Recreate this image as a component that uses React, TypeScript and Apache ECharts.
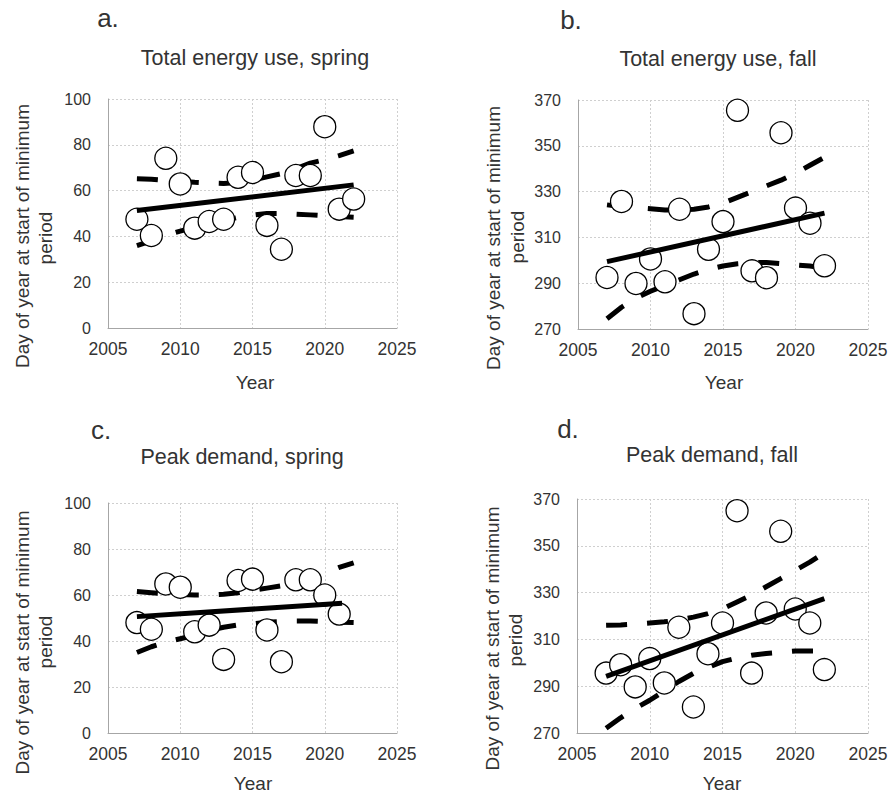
import React, { useEffect, useRef } from "react";
import * as echarts from "echarts";

// ---- Data ----
const years = [2007, 2008, 2009, 2010, 2011, 2012, 2013, 2014, 2015, 2016, 2017, 2018, 2019, 2020, 2021, 2022];
const yearsPeakSpring = [2007, 2008, 2009, 2010, 2011, 2012, 2013, 2014, 2015, 2016, 2017, 2018, 2019, 2020, 2021];
const trendYears = [2007, 2022];
const trendYearsPeakSpring = [2007, 2021.2];

// a. Total energy use, spring
const energySpring = [47.5, 40.4, 74.1, 62.9, 43.6, 46.5, 47.5, 65.8, 67.9, 44.8, 34.4, 66.6, 66.6, 87.9, 51.9, 56.3];
const energySpringTrend = [51.3, 62.5];
const energySpringUpper = [65.2, 65, 64.5, 64, 63.6, 63.3, 63.1, 63.5, 64.5, 66, 67.4, 69.5, 72, 73.5, 75.3, 77.3];
const energySpringLower = [36, 38, 40.5, 42.3, 44, 45.5, 47, 48.3, 49.3, 50, 50, 49.7, 49.4, 49, 48.7, 48.4];

// b. Total energy use, fall
const energyFall = [292.5, 325.7, 289.9, 300.6, 290.6, 322.3, 276.7, 304.8, 316.9, 365.5, 295.4, 292.4, 355.7, 322.8, 316.2, 297.6];
const energyFallTrend = [299.4, 320.6];
const energyFallUpper = [324.2, 323.5, 323, 322.5, 322, 322, 322.3, 323.3, 325, 327.5, 330, 332.5, 335, 338, 341.5, 345];
const energyFallLower = [274.5, 279.5, 283.5, 286.5, 289, 291.5, 294, 296, 297.5, 298.5, 299, 299, 298.5, 298, 297.5, 296.5];

// c. Peak demand, spring
const peakSpring = [48.0, 45.1, 64.8, 63.4, 44.0, 46.9, 32.0, 66.3, 66.9, 44.8, 31.0, 66.6, 66.6, 60.0, 51.7];
const peakSpringTrend = [50.6, 56.4];
const peakSpringUpper = [61.5, 61, 60.5, 60.2, 60, 60, 60.3, 61, 62, 63, 64, 65.5, 67.5, 69.5, 72, 74];
const peakSpringLower = [35, 37.5, 39.5, 41, 42.5, 44.5, 46, 47, 47.5, 48.2, 48.5, 48.7, 48.7, 48.5, 48.2, 48];

// d. Peak demand, fall
const peakFall = [295.6, 299.2, 289.7, 301.8, 291.4, 315.2, 281.1, 303.9, 317, 365, 295.6, 321.3, 356.2, 323, 317, 297.1];
const peakFallTrend = [294.2, 327.4];
const peakFallUpper = [316, 316.2, 316.5, 317, 317.5, 318.3, 319.5, 321, 323, 326, 329, 332.5, 336, 339.5, 343, 347];
const peakFallLower = [272, 276.5, 280.5, 284, 288, 292, 295.5, 298, 300.5, 302, 303.2, 304, 304.5, 305, 305, 305];

const panelLetters = ["a.", "b.", "c.", "d."];
const panelTitles = ["Total energy use, spring", "Total energy use, fall", "Peak demand, spring", "Peak demand, fall"];
const xAxisTitle = "Year";
const yAxisTitleLines = ["Day of year at start of minimum", "period"];
const xRange = [2005, 2025, 5];
const springRange = [0, 100, 20];
const fallRange = [270, 370, 20];

const pair = (xs: number[], ys: number[]) => xs.map((x, i) => [x, ys[i]]);

const FONT = "'Liberation Sans', Arial, sans-serif";
const TXT = "#333333";

export default function App() {
  const ref = useRef<HTMLDivElement>(null);
  useEffect(() => {
    if (!ref.current) return;
    const chart = echarts.init(ref.current, undefined, { renderer: "svg" });

    const grids = [
      { left: 108, top: 99, width: 289, height: 229 },
      { left: 578, top: 100, width: 290, height: 229 },
      { left: 108, top: 503, width: 289, height: 230 },
      { left: 577, top: 499, width: 291, height: 234 },
    ];
    const yRanges = [springRange, fallRange, springRange, fallRange];

    const xAxes = grids.map((_, i) => ({
      type: "value",
      gridIndex: i,
      min: xRange[0],
      max: xRange[1],
      interval: xRange[2],
      axisLine: { show: true, onZero: false, lineStyle: { color: "#a6a6a6", width: 1 } },
      axisTick: { show: false },
      axisLabel: { fontSize: 17.5, color: TXT, fontFamily: FONT, margin: 12, formatter: (v: number) => String(v) },
      splitLine: { show: true, lineStyle: { color: "#cfcfcf", type: [2, 2], width: 1 } },
    }));
    const yAxes = grids.map((_, i) => ({
      type: "value",
      gridIndex: i,
      min: yRanges[i][0],
      max: yRanges[i][1],
      interval: yRanges[i][2],
      axisLine: { show: true, onZero: false, lineStyle: { color: "#a6a6a6", width: 1 } },
      axisTick: { show: false },
      axisLabel: { fontSize: 16, color: TXT, fontFamily: FONT, margin: 17, formatter: (v: number) => String(v) },
      splitLine: { show: true, lineStyle: { color: "#cfcfcf", type: [2, 2], width: 1 } },
    }));

    const panels = [
      { pts: pair(years, energySpring), trend: pair(trendYears, energySpringTrend), up: pair(years, energySpringUpper), lo: pair(years, energySpringLower) },
      { pts: pair(years, energyFall), trend: pair(trendYears, energyFallTrend), up: pair(years, energyFallUpper), lo: pair(years, energyFallLower) },
      { pts: pair(yearsPeakSpring, peakSpring), trend: pair(trendYearsPeakSpring, peakSpringTrend), up: pair(years, peakSpringUpper), lo: pair(years, peakSpringLower) },
      { pts: pair(years, peakFall), trend: pair(trendYears, peakFallTrend), up: pair(years, peakFallUpper), lo: pair(years, peakFallLower) },
    ];

    const series: any[] = [];
    panels.forEach((p, i) => {
      const lineBase = { type: "line", xAxisIndex: i, yAxisIndex: i, symbol: "none", silent: true };
      series.push({ ...lineBase, z: 1, data: p.up, lineStyle: { color: "#000", width: 5, type: [21, 20] } });
      series.push({ ...lineBase, z: 1, data: p.lo, lineStyle: { color: "#000", width: 5, type: [21, 20] } });
      series.push({
        type: "scatter",
        xAxisIndex: i,
        yAxisIndex: i,
        data: p.pts,
        symbol: "circle",
        symbolSize: 22,
        itemStyle: { color: "#ffffff", borderColor: "#000000", borderWidth: 1.3, opacity: 1 },
        z: 2,
        silent: true,
      });
      series.push({ ...lineBase, z: 3, data: p.trend, lineStyle: { color: "#000", width: 5, type: "solid" } });
    });

    const letterPos = [[108, 18], [571, 20], [101, 429.5], [568, 429]];
    const titlePos = [[255, 58], [718, 59], [242, 457], [712, 455]];
    const yName1 = [[22, 236], [493.5, 238], [22, 642.5], [492, 638.5]];
    const yName2 = [[45, 238], [517, 237], [45, 642], [515, 640]];
    const xNamePos = [[255, 382], [724, 382], [253, 783], [722, 783]];

    const graphic: any[] = [];
    for (let i = 0; i < 4; i++) {
      graphic.push({ type: "text", x: letterPos[i][0], y: letterPos[i][1], style: { text: panelLetters[i], font: `26px ${FONT}`, fill: TXT, textAlign: "center", textVerticalAlign: "middle" } });
      graphic.push({ type: "text", x: titlePos[i][0], y: titlePos[i][1], style: { text: panelTitles[i], font: `21.5px ${FONT}`, fill: TXT, textAlign: "center", textVerticalAlign: "middle" } });
      graphic.push({ type: "text", x: yName1[i][0], y: yName1[i][1], rotation: Math.PI / 2, style: { text: yAxisTitleLines[0], font: `19px ${FONT}`, fill: TXT, textAlign: "center", textVerticalAlign: "middle" } });
      graphic.push({ type: "text", x: yName2[i][0], y: yName2[i][1], rotation: Math.PI / 2, style: { text: yAxisTitleLines[1], font: `19px ${FONT}`, fill: TXT, textAlign: "center", textVerticalAlign: "middle" } });
      graphic.push({ type: "text", x: xNamePos[i][0], y: xNamePos[i][1], style: { text: xAxisTitle, font: `19px ${FONT}`, fill: TXT, textAlign: "center", textVerticalAlign: "middle" } });
    }

    chart.setOption({
      animation: false,
      backgroundColor: "#ffffff",
      grid: grids,
      xAxis: xAxes,
      yAxis: yAxes,
      series,
      graphic,
    });
    return () => chart.dispose();
  }, []);
  return <div ref={ref} style={{ position: "absolute", left: 0, top: 0, width: 891, height: 797 }} />;
}
